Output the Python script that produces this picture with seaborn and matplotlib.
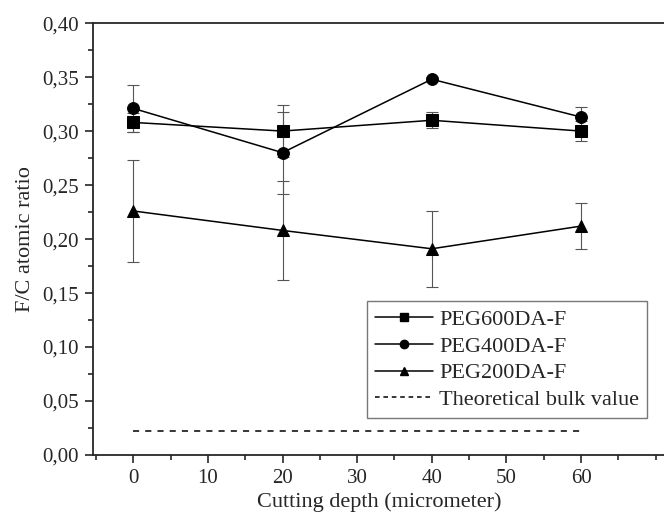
import matplotlib
matplotlib.use("Agg")
import matplotlib.pyplot as plt
import seaborn as sns
import pandas as pd
from matplotlib.ticker import MultipleLocator, FuncFormatter
from matplotlib.lines import Line2D

# data
depth = [0, 20, 40, 60]
peg600 = [0.308, 0.300, 0.310, 0.300]
peg600_err = [0.009, 0.024, 0.0075, 0.009]
peg400 = [0.321, 0.280, 0.348, 0.313]
peg400_err = [0.022, 0.038, 0.002, 0.009]
peg200 = [0.226, 0.208, 0.191, 0.212]
peg200_err = [0.047, 0.046, 0.035, 0.021]
bulk_value = 0.022
series_names = ["PEG600DA-F", "PEG400DA-F", "PEG200DA-F"]

sns.set_style("ticks")
plt.rcParams['font.family'] = ['Liberation Serif', 'DejaVu Serif']

df = pd.DataFrame({
    "depth": depth * 3,
    "ratio": peg600 + peg400 + peg200,
    "sample": [n for n in series_names for _ in depth],
})

fig = plt.figure(figsize=(6.64, 5.13), dpi=100)
ax = fig.add_axes([0.140, 0.113, 0.862, 0.842])

# error bars first so the markers sit on top
for vals, errs in [(peg600, peg600_err), (peg400, peg400_err), (peg200, peg200_err)]:
    ax.errorbar(depth, vals, yerr=errs, fmt="none", ecolor="#555555",
                elinewidth=0.8, capsize=4, capthick=0.8, zorder=1)

markers = {"PEG600DA-F": "s", "PEG400DA-F": "o", "PEG200DA-F": "^"}
sns.lineplot(data=df, x="depth", y="ratio", style="sample", markers=markers,
             dashes=False, color="black", markersize=8.5, linewidth=1.1,
             markeredgecolor="black", ax=ax, legend=False, zorder=3)

# theoretical bulk value
ax.plot([depth[0], depth[-1]], [bulk_value, bulk_value], color="black",
        linestyle=(0, (4, 4)), linewidth=1.1)

ax.set_xlim(-5.4, 71.3)
ax.set_ylim(0, 0.40)
ax.xaxis.set_major_locator(MultipleLocator(10))
ax.xaxis.set_minor_locator(MultipleLocator(5))
ax.yaxis.set_major_locator(MultipleLocator(0.05))
ax.yaxis.set_minor_locator(MultipleLocator(0.025))
ax.yaxis.set_major_formatter(FuncFormatter(lambda v, p: f"{v:.2f}".replace(".", ",")))
ax.set_xticks([0, 10, 20, 30, 40, 50, 60])
ax.tick_params(which="major", direction="out", length=6, width=1.2, labelsize=15, pad=4)
ax.tick_params(which="minor", direction="out", length=3.5, width=1.2)
for s in ["left", "bottom", "top"]:
    ax.spines[s].set_linewidth(1.3)
ax.spines["right"].set_visible(False)

ax.set_xlabel("Cutting depth (micrometer)", fontsize=16, labelpad=3)
ax.set_ylabel("F/C atomic ratio", fontsize=16, labelpad=5)

handles = [
    Line2D([], [], color="black", marker="s", markersize=6, linewidth=1.1),
    Line2D([], [], color="black", marker="o", markersize=6, linewidth=1.1),
    Line2D([], [], color="black", marker="^", markersize=6, linewidth=1.1),
    Line2D([], [], color="black", linestyle=(0, (3, 2.5)), linewidth=1.1),
]
leg = ax.legend(handles, series_names + ["Theoretical bulk value"], loc="lower left",
                bbox_to_anchor=(0.479, 0.086), fontsize=16, frameon=True, fancybox=False,
                edgecolor="#555555", handlelength=2.6, handletextpad=0.3,
                labelspacing=0.28, borderpad=0.35, borderaxespad=0)
leg.get_frame().set_linewidth(1.0)

fig.savefig("out.png", dpi=100)
